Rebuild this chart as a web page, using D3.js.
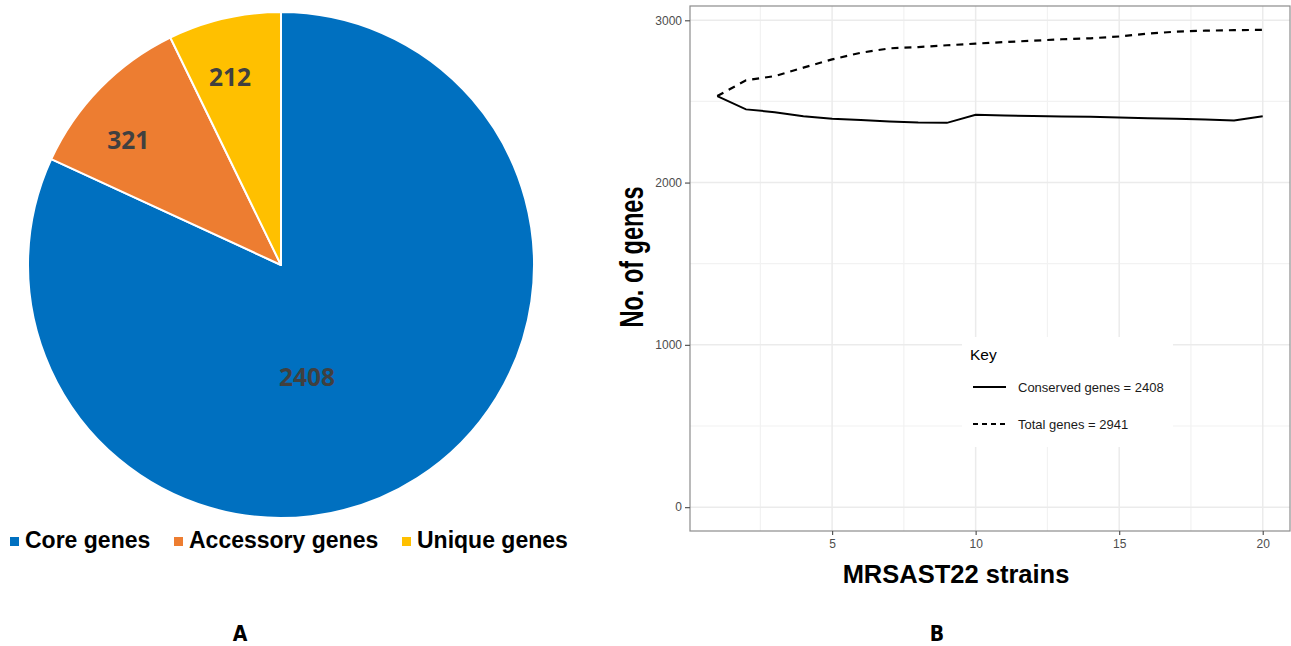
<!DOCTYPE html>
<html>
<head>
<meta charset="utf-8">
<script src="https://cdn.jsdelivr.net/npm/d3@7/dist/d3.min.js"></script>
<style>
  html, body { margin: 0; padding: 0; background: #fff; }
  svg { display: block; }
</style>
</head>
<body>
<svg id="fig" width="1291" height="646"></svg>
<script>
// Panel A: gene categories of the pan-genome
const pieCategories = ["Core genes", "Accessory genes", "Unique genes"];
const pieValues = [2408, 321, 212];
const pieColors = ["#0070C0", "#ED7D31", "#FFC000"];

// Panel B: gene accumulation across strains
const strainCounts = [1, 2, 3, 4, 5, 6, 7, 8, 9, 10, 11, 12, 13, 14, 15, 16, 17, 18, 19, 20];
const conservedGenes = [2533, 2451, 2434, 2409, 2393, 2385, 2377, 2370, 2368, 2418, 2414, 2410, 2407, 2405, 2401, 2397, 2393, 2389, 2383, 2408];
const totalGenes = [2533, 2630, 2656, 2708, 2759, 2800, 2827, 2835, 2846, 2856, 2866, 2874, 2883, 2889, 2900, 2918, 2930, 2936, 2939, 2941];
const yTickValues = [0, 1000, 2000, 3000];
const xTickValues = [5, 10, 15, 20];
const keyLabels = ["Conserved genes = 2408", "Total genes = 2941"];

const svg = d3.select("#fig");
const sans = "'Liberation Sans', Arial, sans-serif";

// ---------- Panel A: pie ----------
const pieG = svg.append("g").attr("transform", "translate(281,265)");
const radius = 253;
const pie = d3.pie().sort(null).value(d => d)(pieValues);
const arc = d3.arc().innerRadius(0).outerRadius(radius);

pieG.selectAll("path.slice")
  .data(pie)
  .enter().append("path")
  .attr("class", "slice")
  .attr("d", arc)
  .attr("fill", (d, i) => pieColors[i])
  .attr("stroke", "#fff")
  .attr("stroke-width", 2)
  .attr("stroke-linejoin", "round");

// value label placement (fraction of radius, angle in degrees clockwise from 12 o'clock)
const labelPolar = [[0.455, 167], [0.78, 309.3], [0.77, 344.8]];
pieG.selectAll("text.val")
  .data(pie)
  .enter().append("text")
  .attr("class", "val")
  .attr("transform", (d, i) => {
    const a = labelPolar[i][1] * Math.PI / 180;
    const r = radius * labelPolar[i][0];
    return `translate(${r * Math.sin(a)},${-r * Math.cos(a)})`;
  })
  .attr("text-anchor", "middle")
  .attr("dy", "0.36em")
  .attr("font-family", "'Open Sans', sans-serif")
  .attr("font-weight", 700)
  .attr("font-size", 24.5)
  .attr("fill", "#404040")
  .text(d => d.data);

// legend under the pie
const legendX = [10, 174, 402];
const legG = svg.append("g");
pieCategories.forEach((c, i) => {
  legG.append("rect")
    .attr("x", legendX[i]).attr("y", 537)
    .attr("width", 9).attr("height", 9)
    .attr("fill", pieColors[i]);
  legG.append("text")
    .attr("x", legendX[i] + 15).attr("y", 548)
    .attr("font-family", sans)
    .attr("font-weight", "bold")
    .attr("font-size", 23)
    .attr("fill", "#000")
    .text(c);
});

// panel letters
[["A", 240], ["B", 937]].forEach(([t, x]) => {
  svg.append("text")
    .attr("x", x).attr("y", 641)
    .attr("text-anchor", "middle")
    .attr("font-family", "'Liberation Sans Narrow', 'DejaVu Sans Condensed', sans-serif")
    .attr("font-weight", "bold")
    .attr("font-size", 21)
    .attr("fill", "#000")
    .text(t);
});

// ---------- Panel B: line chart ----------
const panel = { left: 690, right: 1290, top: 6, bottom: 531 };
const x = d3.scaleLinear().domain([0.05, 20.95]).range([panel.left, panel.right]);
const y = d3.scaleLinear().domain([-147, 3088]).range([panel.bottom, panel.top]);

const gB = svg.append("g");
gB.append("rect")
  .attr("x", panel.left).attr("y", panel.top)
  .attr("width", panel.right - panel.left).attr("height", panel.bottom - panel.top)
  .attr("fill", "#fff");

// minor and major gridlines
const xMinor = [2.5, 7.5, 12.5, 17.5];
const yMinor = [500, 1500, 2500];
gB.selectAll("line.xminor").data(xMinor).enter().append("line")
  .attr("x1", d => x(d)).attr("x2", d => x(d))
  .attr("y1", panel.top).attr("y2", panel.bottom)
  .attr("stroke", "#f2f2f2").attr("stroke-width", 1.2);
gB.selectAll("line.yminor").data(yMinor).enter().append("line")
  .attr("y1", d => y(d)).attr("y2", d => y(d))
  .attr("x1", panel.left).attr("x2", panel.right)
  .attr("stroke", "#f2f2f2").attr("stroke-width", 1.2);
gB.selectAll("line.xmajor").data(xTickValues).enter().append("line")
  .attr("x1", d => x(d)).attr("x2", d => x(d))
  .attr("y1", panel.top).attr("y2", panel.bottom)
  .attr("stroke", "#ebebeb").attr("stroke-width", 1.5);
gB.selectAll("line.ymajor").data(yTickValues).enter().append("line")
  .attr("y1", d => y(d)).attr("y2", d => y(d))
  .attr("x1", panel.left).attr("x2", panel.right)
  .attr("stroke", "#ebebeb").attr("stroke-width", 1.5);

// series lines
const line = d3.line().x((d, i) => x(strainCounts[i])).y(d => y(d));
gB.append("path")
  .datum(totalGenes)
  .attr("d", line)
  .attr("fill", "none")
  .attr("stroke", "#000")
  .attr("stroke-width", 2.2)
  .attr("stroke-dasharray", "7,6");
gB.append("path")
  .datum(conservedGenes)
  .attr("d", line)
  .attr("fill", "none")
  .attr("stroke", "#000")
  .attr("stroke-width", 2);

// key box
const key = gB.append("g");
key.append("rect")
  .attr("x", 962).attr("y", 337).attr("width", 211).attr("height", 110)
  .attr("fill", "#fff");
key.append("text")
  .attr("x", 970).attr("y", 360)
  .attr("font-family", sans)
  .attr("font-size", 15.5).attr("fill", "#000")
  .text("Key");
const keyY = [387, 424];
keyLabels.forEach((t, i) => {
  key.append("line")
    .attr("x1", 973).attr("x2", 1006)
    .attr("y1", keyY[i]).attr("y2", keyY[i])
    .attr("stroke", "#000").attr("stroke-width", 2)
    .attr("stroke-dasharray", i === 1 ? "5,4" : null);
  key.append("text")
    .attr("x", 1018).attr("y", keyY[i] + 4.5)
    .attr("font-family", sans)
    .attr("font-size", 13).attr("fill", "#1a1a1a")
    .text(t);
});

// panel border
gB.append("rect")
  .attr("x", panel.left).attr("y", panel.top)
  .attr("width", panel.right - panel.left).attr("height", panel.bottom - panel.top)
  .attr("fill", "none").attr("stroke", "#8c8c8c").attr("stroke-width", 1.2);

// axes
const yAxis = d3.axisLeft(y).tickValues(yTickValues).tickFormat(d3.format("d")).tickSize(5).tickPadding(3);
const xAxis = d3.axisBottom(x).tickValues(xTickValues).tickFormat(d3.format("d")).tickSize(4).tickPadding(4);
const ya = gB.append("g").attr("transform", `translate(${panel.left},0)`).call(yAxis);
const xa = gB.append("g").attr("transform", `translate(0,${panel.bottom})`).call(xAxis);
[ya, xa].forEach(a => {
  a.select(".domain").remove();
  a.selectAll(".tick line").attr("stroke", "#555").attr("stroke-width", 1.2);
  a.selectAll(".tick text")
    .attr("font-family", sans)
    .attr("font-size", 12).attr("fill", "#4d4d4d");
});

// axis titles
gB.append("text")
  .attr("transform", "translate(643,257) scale(1.4,1) rotate(-90)")
  .attr("text-anchor", "middle")
  .attr("font-family", sans)
  .attr("font-weight", "bold").attr("font-size", 23.5).attr("fill", "#000")
  .text("No. of genes");
gB.append("text")
  .attr("x", 956).attr("y", 583)
  .attr("text-anchor", "middle")
  .attr("font-family", sans)
  .attr("font-weight", "bold").attr("font-size", 25.5).attr("fill", "#000")
  .text("MRSAST22 strains");
</script>
</body>
</html>
